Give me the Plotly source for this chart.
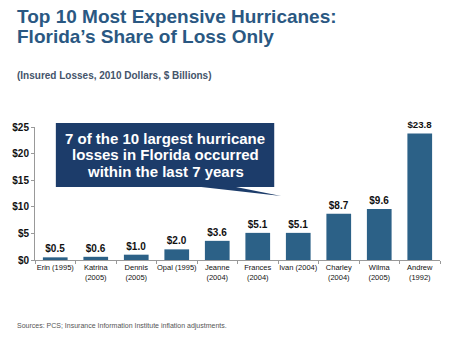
import plotly.graph_objects as go

categories = ["Erin (1995)", "Katrina<br>(2005)", "Dennis<br>(2005)", "Opal (1995)",
              "Jeanne<br>(2004)", "Frances<br>(2004)", "Ivan (2004)", "Charley<br>(2004)",
              "Wilma<br>(2005)", "Andrew<br>(1992)"]
losses = [0.5, 0.6, 1.0, 2.0, 3.6, 5.1, 5.1, 8.7, 9.6, 23.8]
value_labels = ["<b>$%.1f</b>" % v for v in losses]
ytick_vals = [0, 5, 10, 15, 20, 25]
ytick_text = ["$0", "$5", "$10", "$15", "$20", "$25"]

W, H = 456, 345
L, R, T, B = 32, 16, 127, 85
pw, ph = W - L - R, H - T - B

def px(x):
    return (x - L) / pw

def py(y):
    return (H - B - y) / ph

fig = go.Figure(go.Bar(
    x=categories, y=losses,
    marker=dict(color="#2c6187", line=dict(width=0)),
    text=value_labels, textposition="outside", cliponaxis=False,
    textfont=dict(family="Liberation Sans, Arial, sans-serif", size=10, color="#111111"),
    hoverinfo="skip",
))

box_color = "#1c3c6a"
shapes = [
    dict(type="rect", xref="paper", yref="paper",
         x0=px(53), x1=px(273), y0=py(187), y1=py(123),
         fillcolor=box_color, line=dict(width=0), layer="above"),
    dict(type="path", xref="paper", yref="paper",
         path="M %f,%f L %f,%f L %f,%f Z" % (px(195), py(186.5), px(280), py(196), px(232), py(186.5)),
         fillcolor=box_color, line=dict(width=0), layer="above"),
]

font_main = "Liberation Sans, Arial, sans-serif"
callout_lines = ["7 of the 10 largest hurricane", "losses in Florida occurred", "within the last 7 years"]
callout_y = [138, 154.5, 171]
annotations = []
for t, yy in zip(callout_lines, callout_y):
    annotations.append(dict(text="<b>%s</b>" % t, xref="paper", yref="paper",
                            x=px(163), y=py(yy), xanchor="center", yanchor="middle",
                            showarrow=False,
                            font=dict(family=font_main, size=15, color="white")))

annotations.append(dict(text="<b>Top 10 Most Expensive Hurricanes:</b>", xref="paper", yref="paper",
                        x=px(12), y=py(16), xanchor="left", yanchor="middle", showarrow=False,
                        font=dict(family=font_main, size=19, color="#2a5882")))
annotations.append(dict(text="<b>Florida\u2019s Share of Loss Only</b>", xref="paper", yref="paper",
                        x=px(12), y=py(36), xanchor="left", yanchor="middle", showarrow=False,
                        font=dict(family=font_main, size=19, color="#2a5882")))
annotations.append(dict(text="<b>(Insured Losses, 2010 Dollars, $ Billions)</b>", xref="paper", yref="paper",
                        x=px(12), y=py(75), xanchor="left", yanchor="middle", showarrow=False,
                        font=dict(family=font_main, size=10, color="#44546a")))
annotations.append(dict(text="Sources: PCS; Insurance Information Institute inflation adjustments.",
                        xref="paper", yref="paper",
                        x=px(12), y=py(326), xanchor="left", yanchor="middle", showarrow=False,
                        font=dict(family=font_main, size=7, color="#555555")))

fig.update_layout(
    width=W, height=H,
    margin=dict(l=L, r=R, t=T, b=B, pad=0),
    paper_bgcolor="white", plot_bgcolor="white",
    bargap=0.39, showlegend=False,
    shapes=shapes, annotations=annotations,
    xaxis=dict(showgrid=False, showline=True, linecolor="#999999", linewidth=1,
               ticks="outside", ticklen=3, tickcolor="#999999", tickson="boundaries",
               tickfont=dict(family="Liberation Sans, Arial, sans-serif",
                             size=7.5, color="#111111"),
               tickangle=0, fixedrange=True),
    yaxis=dict(range=[0, 25], tickvals=ytick_vals, ticktext=["<b>%s</b>" % t for t in ytick_text],
               showgrid=False, zeroline=False, showline=True, linecolor="#999999", linewidth=1,
               ticks="outside", ticklen=3, tickcolor="#999999",
               tickfont=dict(family=font_main, size=10, color="#111111"), fixedrange=True),
)

fig.write_html("out.html", config={"displayModeBar": False})
